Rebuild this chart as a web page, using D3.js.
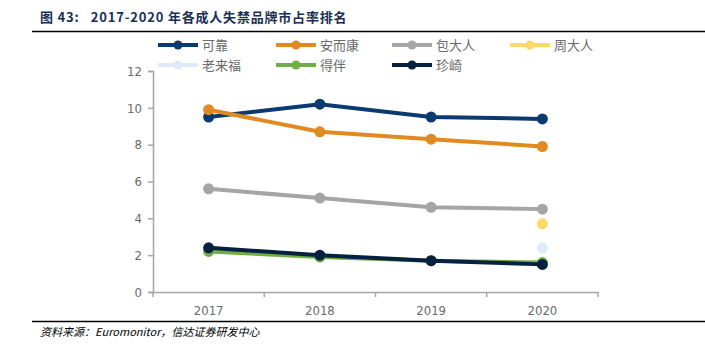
<!DOCTYPE html>
<html lang="zh">
<head>
<meta charset="UTF-8">
<title>2017-2020 年各成人失禁品牌市占率排名</title>
<script src="https://d3js.org/d3.v7.min.js"></script>
<style>
  body { margin: 0; background: #fff; }
  svg { display: block; font-family: "Noto Sans CJK SC", "DejaVu Sans", sans-serif; }
</style>
</head>
<body>
<div id="chart"></div>
<script>
// data
const years = ["2017", "2018", "2019", "2020"];
const brands = ["可靠", "安而康", "包大人", "周大人", "老来福", "得伴", "珍崎"];
const kekao   = [9.5, 10.2, 9.5, 9.4];
const anerkang = [9.9, 8.7, 8.3, 7.9];
const baodaren = [5.6, 5.1, 4.6, 4.5];
const zhoudaren = [null, null, null, 3.7];
const laolaifu = [null, null, null, 2.4];
const deban = [2.2, 1.9, 1.7, 1.6];
const zhenqi = [2.4, 2.0, 1.7, 1.5];
const yTicks = [0, 2, 4, 6, 8, 10, 12];

const seriesValues = [kekao, anerkang, baodaren, zhoudaren, laolaifu, deban, zhenqi];
const colors = ["#0b3a6e", "#e08a22", "#a5a5a5", "#ffd966", "#dfeaf8", "#70ad47", "#06203f"];

const W = 705, H = 352;
const svg = d3.select("#chart").append("svg").attr("width", W).attr("height", H);

// title + rules
svg.append("text").attr("x", 40).attr("y", 22)
  .attr("font-size", 13).attr("font-weight", "bold").attr("fill", "#1a2f55")
  .attr("letter-spacing", 0.8)
  .style("white-space", "pre")
  .text("图 43:   2017-2020 年各成人失禁品牌市占率排名");
svg.append("line").attr("x1", 32).attr("x2", W).attr("y1", 31.5).attr("y2", 31.5)
  .attr("stroke", "#000").attr("stroke-width", 1.5);
svg.append("line").attr("x1", 32).attr("x2", W).attr("y1", 321.5).attr("y2", 321.5)
  .attr("stroke", "#000").attr("stroke-width", 1.5);
svg.append("text").attr("x", 40).attr("y", 336)
  .attr("font-size", 11).attr("font-style", "italic").attr("fill", "#000")
  .text("资料来源：Euromonitor，信达证券研发中心");

// scales
const x = d3.scaleBand().domain(years).range([153, 598]);
const y = d3.scaleLinear().domain([0, 12]).range([292, 71]);

const yAxis = svg.append("g").attr("transform", "translate(153,0)")
  .call(d3.axisLeft(y).tickValues(yTicks).tickSize(5).tickPadding(6));
const xAxis = svg.append("g").attr("transform", "translate(0,292)")
  .call(d3.axisBottom(x).tickSize(0).tickPadding(14));
// category boundary ticks
const bounds = years.map(d => x(d)).concat([x(years[years.length - 1]) + x.bandwidth()]);
xAxis.selectAll(".bnd").data(bounds).enter().append("line")
  .attr("x1", d => d).attr("x2", d => d).attr("y1", 0).attr("y2", 5)
  .attr("stroke", "#a6a6a6").attr("stroke-width", 1.5);

[yAxis, xAxis].forEach(g => {
  g.select(".domain").attr("stroke", "#a6a6a6").attr("stroke-width", 1.5);
  g.selectAll(".tick line").attr("stroke", "#a6a6a6").attr("stroke-width", 1.5);
  g.selectAll(".tick text").attr("fill", "#6a6a6a").attr("font-size", 13)
    .attr("font-family", "'Liberation Sans Narrow', 'DejaVu Sans Condensed', sans-serif");
});

// lines
const line = d3.line()
  .defined(d => d.v != null)
  .x(d => x(d.year) + x.bandwidth() / 2)
  .y(d => y(d.v));

brands.forEach((b, i) => {
  const pts = years.map((yr, j) => ({ year: yr, v: seriesValues[i][j] }));
  const g = svg.append("g");
  g.append("path").datum(pts).attr("d", line)
    .attr("fill", "none").attr("stroke", colors[i]).attr("stroke-width", 4);
  g.selectAll("circle").data(pts.filter(d => d.v != null)).enter().append("circle")
    .attr("cx", d => x(d.year) + x.bandwidth() / 2)
    .attr("cy", d => y(d.v))
    .attr("r", 5.5).attr("fill", colors[i]);
});

// legend
const legX = [158, 276, 392, 510];
brands.forEach((b, i) => {
  const lx = legX[i % 4], ly = i < 4 ? 45 : 65;
  const g = svg.append("g");
  g.append("line").attr("x1", lx).attr("x2", lx + 40).attr("y1", ly).attr("y2", ly)
    .attr("stroke", colors[i]).attr("stroke-width", 4);
  g.append("circle").attr("cx", lx + 20).attr("cy", ly).attr("r", 4.5).attr("fill", colors[i]);
  g.append("text").attr("x", lx + 44).attr("y", ly + 5)
    .attr("font-size", 13).attr("fill", "#6a6a6a").text(b);
});
</script>
</body>
</html>
